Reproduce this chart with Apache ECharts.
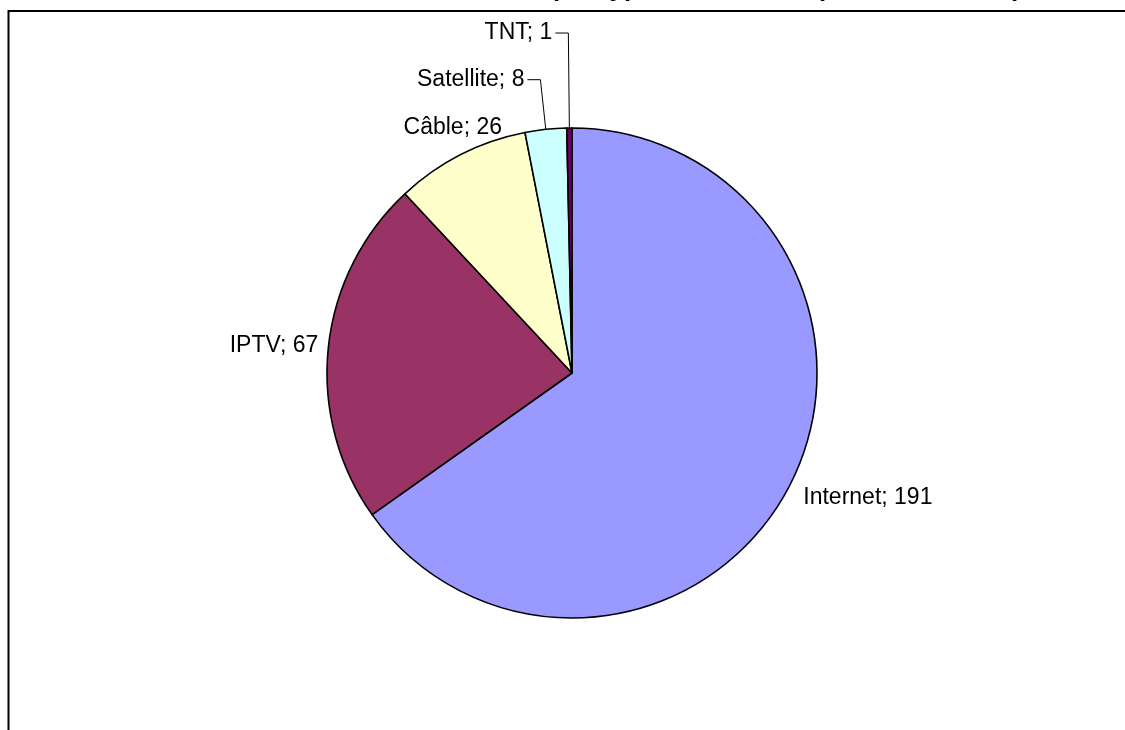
<!DOCTYPE html>
<html>
<head>
<meta charset="utf-8">
<script src="https://cdn.jsdelivr.net/npm/echarts@6/dist/echarts.min.js"></script>
<style>
html,body{margin:0;padding:0;background:#fff;}
#chart{width:1125px;height:730px;}
</style>
</head>
<body>
<div id="chart"></div>
<script>
const categories = ['Internet', 'IPTV', 'Câble', 'Satellite', 'TNT'];
const values = [191, 67, 26, 8, 1];
const colors = ['#9999FF', '#993366', '#FFFFCC', '#CCFFFF', '#660066'];
const titleText = 'Nombre de chaînes par type de diffusion (décembre 2008)';

// label leader settings per slice (styling only)
const lineLen = [12, 5, 30, 50, 95];
const lineLen2 = [0, 0, 0, 13, 13];
const showLine = [false, false, false, true, true];
const labelShift = [[0, 7], [-2, -2], [58, 0], [0, 0], [0, 0]];

const font = '"Liberation Sans", Arial, sans-serif';
const chart = echarts.init(document.getElementById('chart'), null, {renderer: 'canvas'});

const data = categories.map((c, i) => ({
  name: c,
  value: values[i],
  itemStyle: {color: colors[i]},
  labelLine: {show: showLine[i], length: lineLen[i], length2: lineLen2[i]}
}));

chart.setOption({
  animation: false,
  backgroundColor: '#ffffff',
  title: {
    text: titleText,
    left: 301,
    top: -29,
    textStyle: {fontFamily: font, fontSize: 26, fontWeight: 'bold', color: '#000'}
  },
  graphic: [{
    type: 'rect',
    shape: {x: 8.5, y: 11, width: 1300, height: 900},
    style: {fill: 'none', stroke: '#000', lineWidth: 2},
    silent: true
  }],
  series: [{
    type: 'pie',
    center: [572, 373],
    radius: 245,
    startAngle: 90,
    clockwise: true,
    avoidLabelOverlap: false,
    data: data,
    itemStyle: {borderColor: '#000', borderWidth: 1.6},
    label: {
      show: true,
      position: 'outside',
      formatter: p => p.name + '; ' + p.value,
      fontFamily: font,
      fontSize: 23,
      color: '#000',
      distanceToLabelLine: 3
    },
    labelLine: {lineStyle: {color: '#000', width: 1}},
    labelLayout: function (params) {
      const s = labelShift[params.dataIndex];
      return {dx: s[0], dy: s[1]};
    },
    emphasis: {disabled: true}
  }]
});
</script>
</body>
</html>
